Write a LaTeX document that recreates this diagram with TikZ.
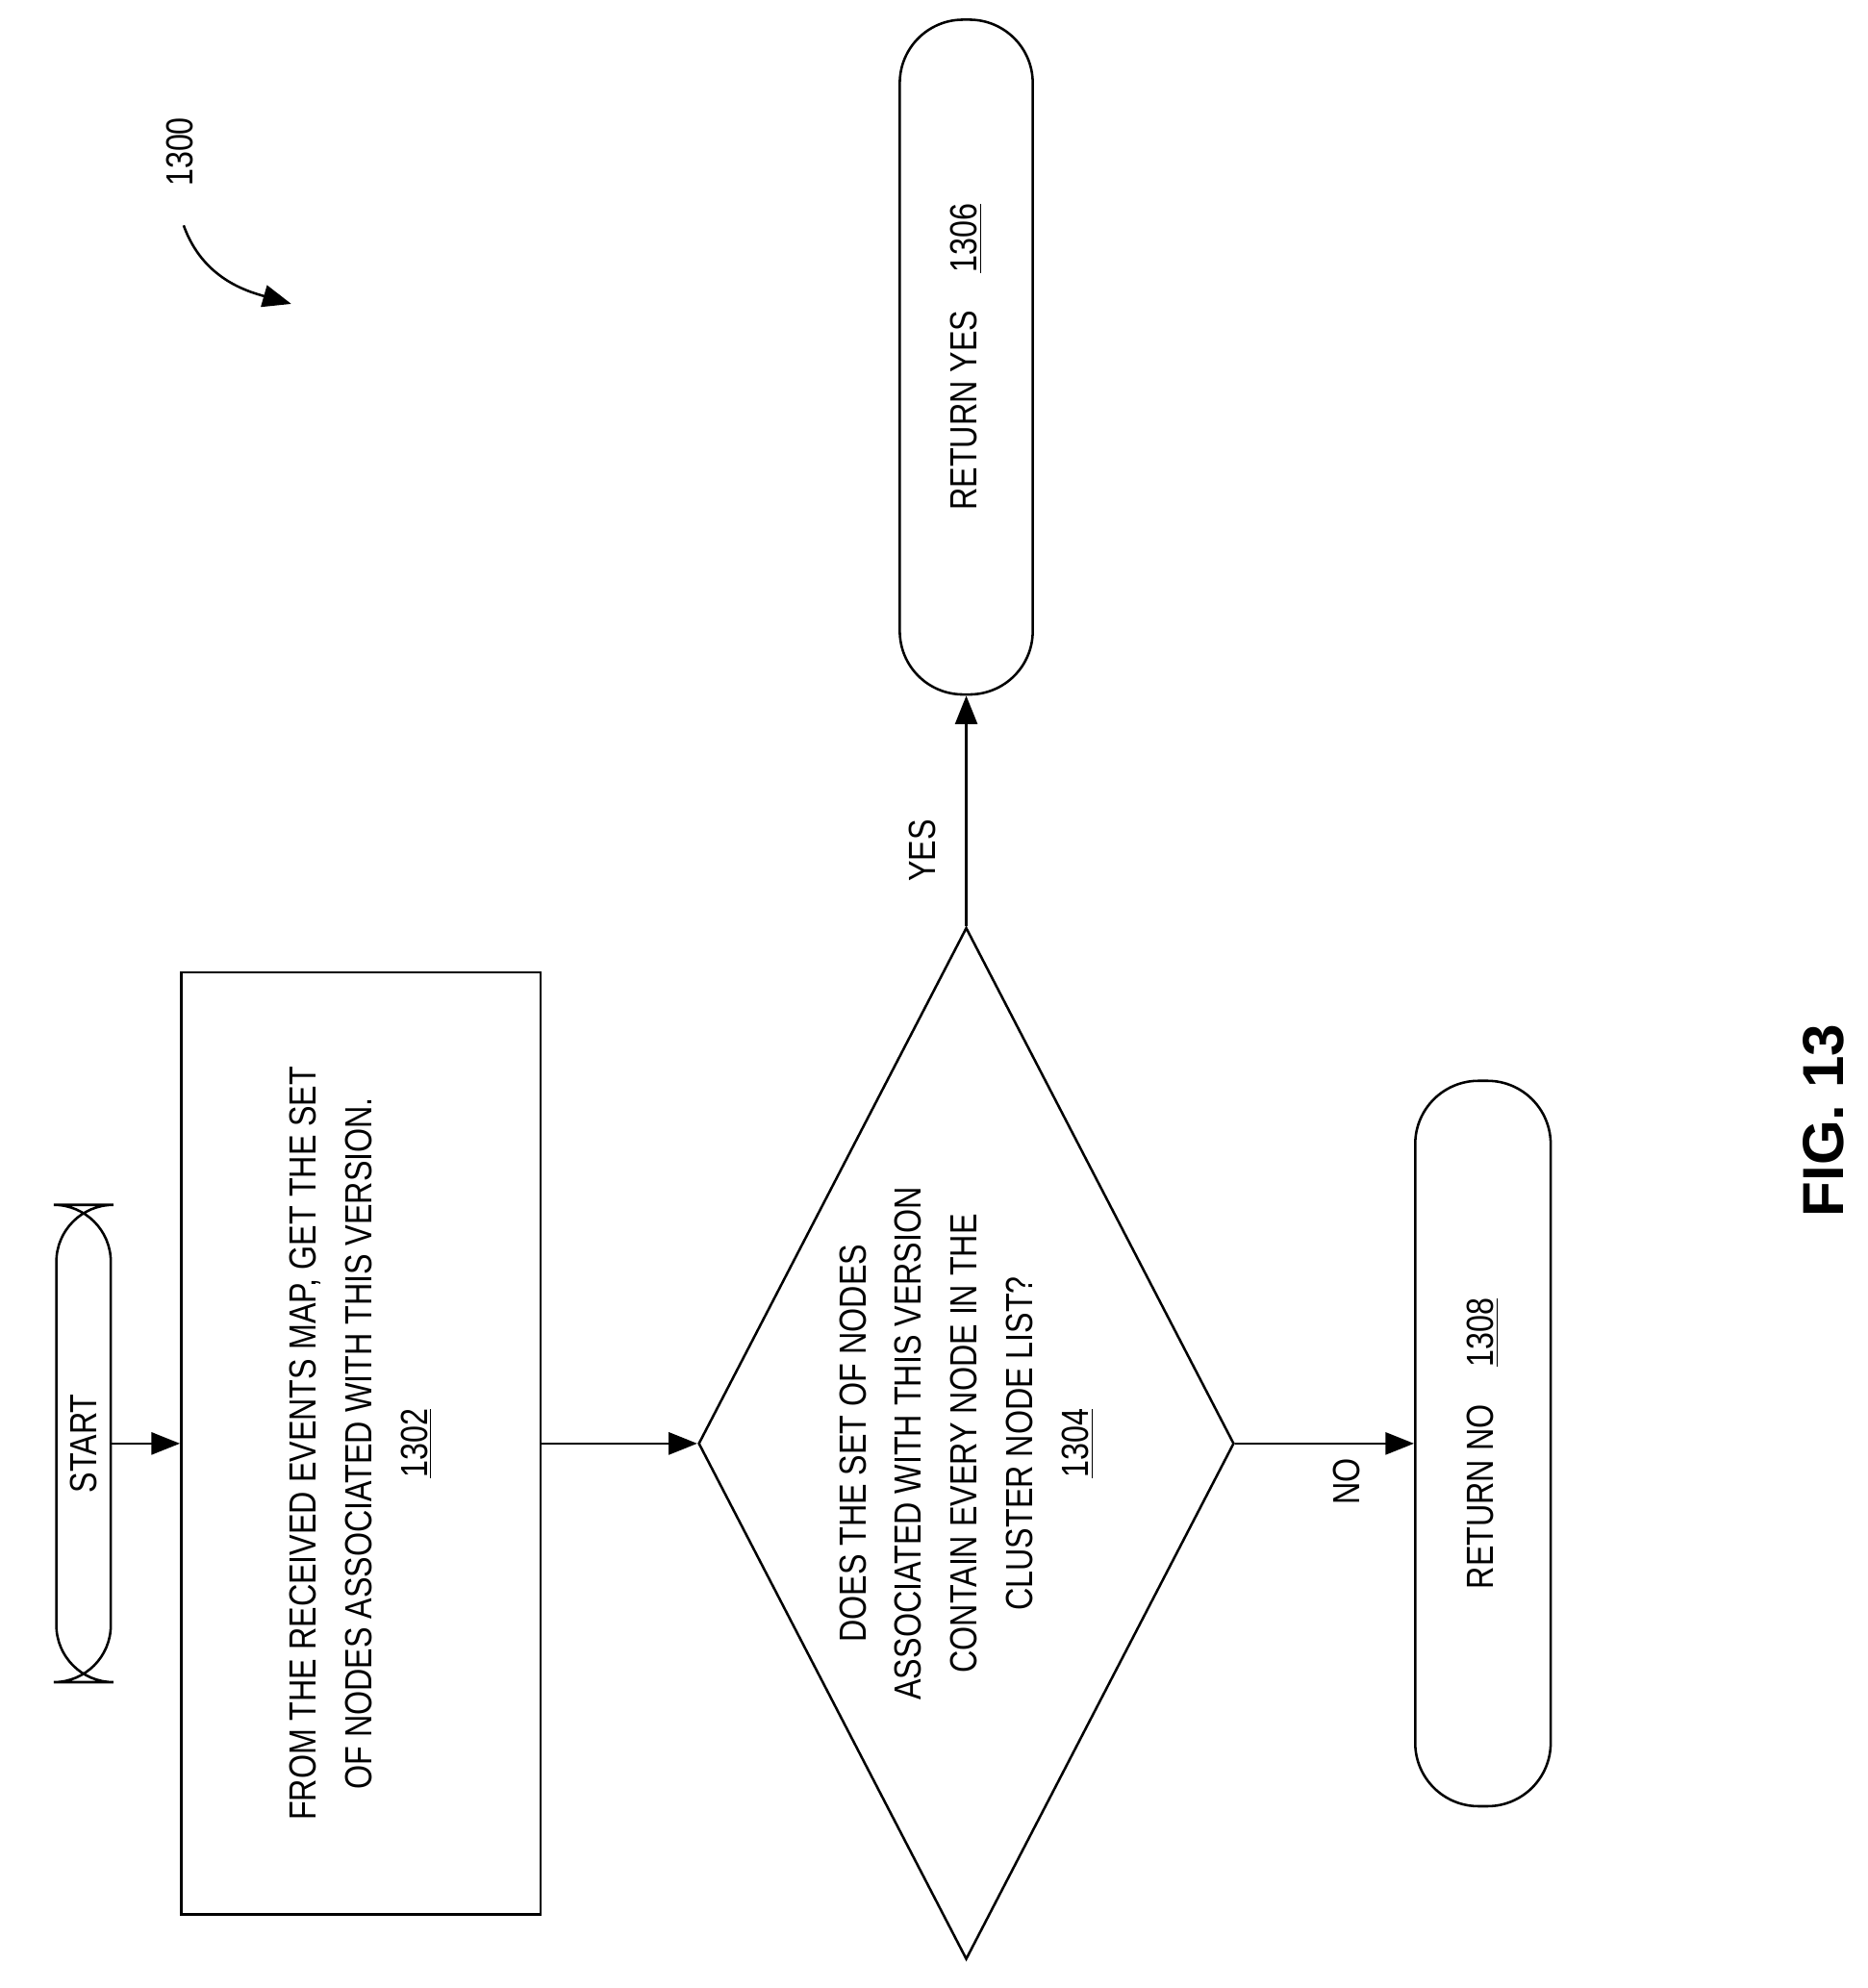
\documentclass[tikz,border=0pt]{standalone}
\usepackage{fontspec}
\setmainfont{Liberation Sans}[FakeStretch=0.82]
\newfontfamily\figfont{Liberation Sans}
\usetikzlibrary{shapes.geometric,arrows.meta}
\begin{document}
\begin{tikzpicture}[x=0.02cm,y=0.02cm,
font=\fontsize{17}{25}\selectfont,
line width=1.1pt,
t/.style={rotate=90,align=center},
term/.style={t,draw,rounded corners=0.9cm,inner sep=0},
arr/.style={-{Triangle[length=0.45cm,width=0.35cm]}},
]
\useasboundingbox (0,0) rectangle (1475,1570);
%Flow
\node[term,minimum width=7.54cm,minimum height=0.86cm](start)at(66,430){START};
\node[t,draw,minimum width=14.88cm,minimum height=5.68cm](get)at(285,430){FROM THE RECEIVED EVENTS MAP, GET THE SET\\OF NODES ASSOCIATED WITH THIS VERSION.\\\underline{1302}};
\node[t,draw,diamond,aspect=1.93,inner sep=0,minimum width=16.3cm,minimum height=8.46cm](check)at(763,430){DOES THE SET OF NODES\\ASSOCIATED WITH THIS VERSION\\CONTAIN EVERY NODE IN THE\\CLUSTER NODE LIST?\\\underline{1304}};
\node[term,rounded corners=1cm,minimum width=10.66cm,minimum height=2.1cm](yes)at(763,1288){RETURN YES\quad\underline{1306}};
\node[term,rounded corners=1cm,minimum width=11.46cm,minimum height=2.14cm](no)at(1171,430){RETURN NO\quad\underline{1308}};
\draw[arr](start)--(get);
\draw[arr](get)--(check);
\draw[arr](check)--(no)node[pos=0.5,below=0.6cm,rotate=90]{NO};
\draw[arr](check)--(yes)node[pos=0.5,left=0.7cm,rotate=90]{YES};
%Label
\node[rotate=90](lbl)at(142,1450){1300};
\coordinate(lblend)at(230,1330);
\draw[arr](145,1392)..controls(160,1350)and(195,1340)..(lblend);
\node[rotate=90,font=\figfont\bfseries\fontsize{26}{30}\selectfont](fig)at(1440,685){FIG. 13};
\end{tikzpicture}
\end{document}
